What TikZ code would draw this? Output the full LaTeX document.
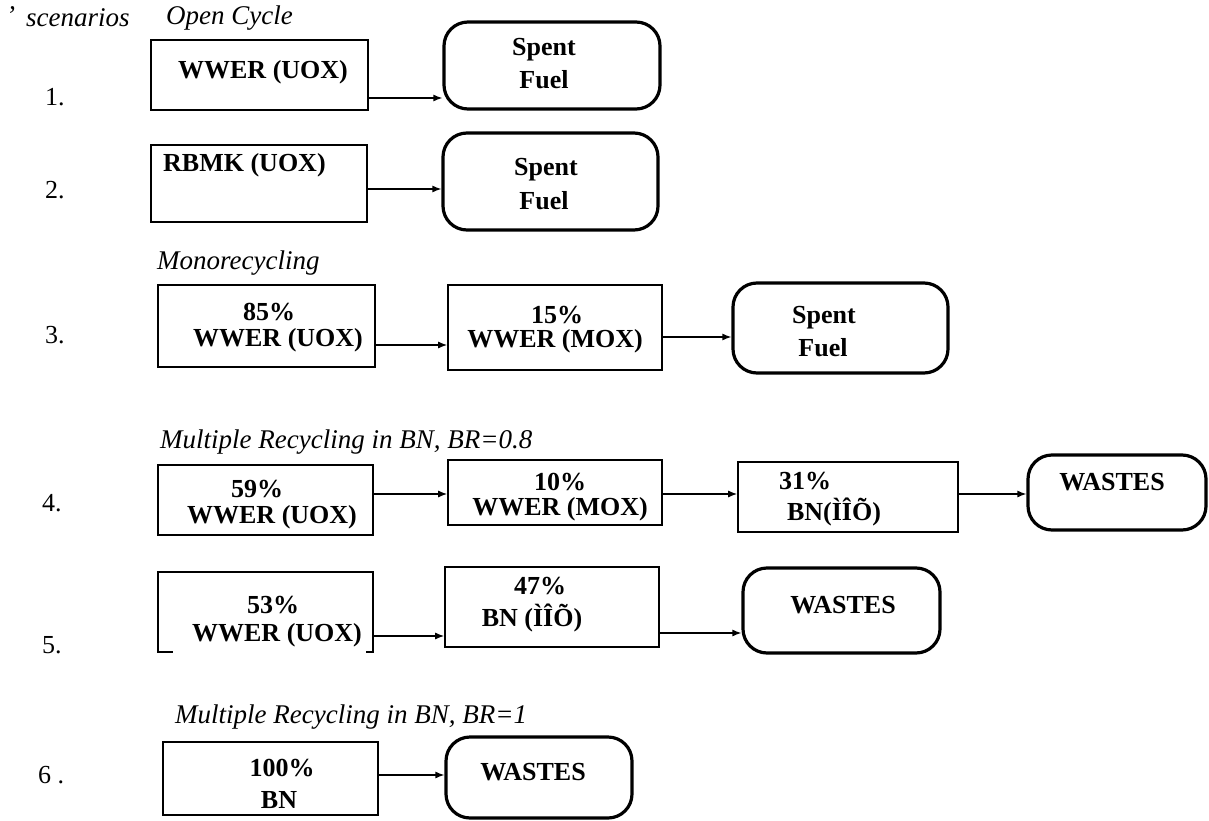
\documentclass[tikz,border=0pt]{standalone}
\usepackage{fontspec}
\setmainfont{Liberation Serif}
\usetikzlibrary{arrows.meta,fit}
\tikzset{
  box/.style={draw, line width=1.6pt, inner sep=0pt},
  hidden/.style={inner sep=0pt},
  rbox/.style={draw, line width=3.2pt, rounded corners=24pt, inner sep=0pt},
  bt/.style={font=\fontsize{26}{29}\selectfont\bfseries, inner sep=0pt},
  it/.style={font=\fontsize{27}{30}\selectfont\itshape, inner sep=0pt, anchor=west},
  num/.style={font=\fontsize{26}{29}\selectfont, inner sep=0pt, anchor=west},
  arr/.style={line width=1.3pt, -{Latex[length=9pt,width=7pt]}}
}
\begin{document}
\begin{tikzpicture}[x=1pt,y=-1pt]
\useasboundingbox (0,0) rectangle (1209,821);
% headings
\node[it] (tick) at (6,16) {'};
\node[it] (scen) at (26,18) {scenarios};
\node[it] (oc) at (166,18) {Open Cycle};
\node[it] (mono) at (157,263) {Monorecycling};
\node[it] (mr8) at (160,442) {Multiple Recycling in BN, BR=0.8};
\node[it] (mr1) at (175,717) {Multiple Recycling in BN, BR=1};
% numbers
\node[num] (n1) at (45,97) {1.};
\node[num] (n2) at (45,190) {2.};
\node[num] (n3) at (45,335) {3.};
\node[num] (n4) at (42,503) {4.};
\node[num] (n5) at (42,645) {5.};
\node[num] (n6) at (38,775) {6 .};
% row 1
\node[box, fit={(151,40) (368,110)}] (b1) {};
\node[bt] (b1t) at (263,72) {WWER (UOX)};
\node[rbox, fit={(444,22) (660,109)}] (s1) {};
\node[bt] (s1a) at (544,50) {Spent};
\node[bt] (s1b) at (544,80) {Fuel};
\coordinate (y1) at (0,98);
\draw[arr] (b1.east |- y1) -- (s1.west |- y1);
% row 2
\node[box, fit={(151,145) (367,222)}] (b2) {};
\node[bt, anchor=west] (b2t) at (163,165) {RBMK (UOX)};
\node[rbox, fit={(443,133) (658,230)}] (s2) {};
\node[bt] (s2a) at (546,170) {Spent};
\node[bt] (s2b) at (544,201) {Fuel};
\coordinate (y2) at (0,189);
\draw[arr] (b2.east |- y2) -- (s2.west |- y2);
% row 3
\node[box, fit={(158,285) (375,367)}] (b3a) {};
\node[bt] (b3a1) at (269,312) {85\%};
\node[bt] (b3a2) at (278,340) {WWER (UOX)};
\node[box, fit={(448,285) (662,370)}] (b3b) {};
\node[bt] (b3b1) at (557,315) {15\%};
\node[bt] (b3b2) at (555,341) {WWER (MOX)};
\node[rbox, fit={(733,283) (948,373)}] (s3) {};
\node[bt] (s3a) at (824,318) {Spent};
\node[bt] (s3b) at (823,348) {Fuel};
\coordinate (y3a) at (0,345);
\coordinate (y3b) at (0,337);
\draw[arr] (b3a.east |- y3a) -- (b3b.west |- y3a);
\draw[arr] (b3b.east |- y3b) -- (s3.west |- y3b);
% row 4
\node[box, fit={(158,465) (373,535)}] (b4a) {};
\node[bt] (b4a1) at (257,489) {59\%};
\node[bt] (b4a2) at (272,517) {WWER (UOX)};
\node[box, fit={(448,460) (662,525)}] (b4b) {};
\node[bt] (b4b1) at (560,482) {10\%};
\node[bt] (b4b2) at (560,509) {WWER (MOX)};
\node[box, fit={(738,462) (958,532)}] (b4c) {};
\node[bt] (b4c1) at (805,481) {31\%};
\node[bt] (b4c2) at (834,512) {BN(ÌÎÕ)};
\node[rbox, fit={(1028,455) (1206,530)}] (w4) {};
\node[bt] (w4t) at (1112,482) {WASTES};
\coordinate (y4) at (0,494);
\draw[arr] (b4a.east |- y4) -- (b4b.west |- y4);
\draw[arr] (b4b.east |- y4) -- (b4c.west |- y4);
\draw[arr] (b4c.east |- y4) -- (w4.west |- y4);
% row 5
\node[hidden, fit={(158,572) (373,652)}] (b5a) {};
\draw[line width=1.6pt] ([xshift=15pt]b5a.south west) -- (b5a.south west) -- (b5a.north west) -- (b5a.north east) -- (b5a.south east) -- ([xshift=-7pt]b5a.south east);
\node[bt] (b5a1) at (273,605) {53\%};
\node[bt] (b5a2) at (277,635) {WWER (UOX)};
\node[box, fit={(445,567) (659,647)}] (b5b) {};
\node[bt] (b5b1) at (540,586) {47\%};
\node[bt] (b5b2) at (532,618) {BN (ÌÎÕ)};
\node[rbox, fit={(743,568) (940,653)}] (w5) {};
\node[bt] (w5t) at (843,605) {WASTES};
\coordinate (y5a) at (0,636);
\coordinate (y5b) at (0,633);
\draw[arr] (b5a.east |- y5a) -- (b5b.west |- y5a);
\draw[arr] (b5b.east |- y5b) -- (w5.west |- y5b);
% row 6
\node[box, fit={(163,742) (378,815)}] (b6) {};
\node[bt] (b61) at (282,768) {100\%};
\node[bt] (b62) at (279,800) {BN};
\node[rbox, fit={(446,737) (632,818)}] (w6) {};
\node[bt] (w6t) at (533,772) {WASTES};
\coordinate (y6) at (0,775);
\draw[arr] (b6.east |- y6) -- (w6.west |- y6);
\end{tikzpicture}
\end{document}
